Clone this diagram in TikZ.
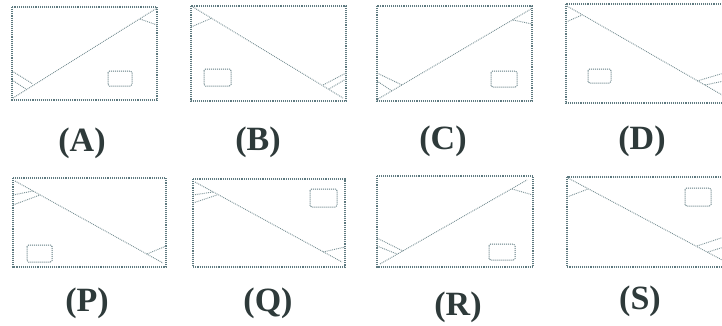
\documentclass[tikz,border=0pt]{standalone}
\usepackage{fontspec}
\setmainfont{Liberation Serif}
\usetikzlibrary{positioning}
\definecolor{Ink}{HTML}{5E7A80}
\definecolor{Label}{HTML}{2E3A3A}

\tikzset{
  frame/.style={Ink,densely dotted,line width=1.1pt},
  crease/.style={Ink!85,densely dotted,line width=0.9pt},
  chip/.style={Ink,densely dotted,line width=1pt,rounded corners=1.5pt},
  tag/.style={font=\fontsize{34}{39}\selectfont\bfseries,text=Label,inner sep=0pt}
}

\begin{document}
\begin{tikzpicture}[x=1pt,y=-1pt]
  \useasboundingbox (0,0) rectangle (722,325);
  \clip (0,0) rectangle (722,325);
  % top row
  % (A)
  \draw[frame] (12,7) rectangle (157,100);
  \draw[crease] (13,98) -- (157,8);
  \draw[crease] (12,71) -- (33,84);
  \draw[crease] (12,80) -- (26,89);
  \draw[crease] (140,19) -- (157,25);
  \draw[chip] (108,71) rectangle (132,86);
  % (B)
  \draw[frame] (191,6) rectangle (346,101);
  \draw[crease] (193,7) -- (343,98);
  \draw[crease] (191,27) -- (212,18);
  \draw[crease] (346,73) -- (323,85);
  \draw[crease] (346,79) -- (329,89);
  \draw[chip] (204,69) rectangle (231,86);
  % (C)
  \draw[frame] (377,6) rectangle (532,101);
  \draw[crease] (378,99) -- (531,9);
  \draw[crease] (377,73) -- (402,85);
  \draw[crease] (377,81) -- (392,91);
  \draw[crease] (513,20) -- (532,24);
  \draw[chip] (491,71) rectangle (517,87);
  % (D)
  \draw[frame] (566,4) rectangle (725,103);
  \draw[crease] (567,6) -- (724,96);
  \draw[crease] (566,22) -- (582,15);
  \draw[crease] (697,81) -- (724,73);
  \draw[crease] (705,85) -- (724,81);
  \draw[chip] (588,69) rectangle (611,83);
  % bottom row
  % (P)
  \draw[frame] (13,178) rectangle (166,267);
  \draw[crease] (15,181) -- (163,263);
  \draw[crease] (13,195) -- (33,191);
  \draw[crease] (13,205) -- (40,195);
  \draw[crease] (147,254) -- (166,246);
  \draw[chip] (27,245) rectangle (52,262);
  % (Q)
  \draw[frame] (193,179) rectangle (345,267);
  \draw[crease] (195,182) -- (342,262);
  \draw[crease] (193,195) -- (213,192);
  \draw[crease] (193,203) -- (217,195);
  \draw[crease] (323,252) -- (345,247);
  \draw[chip] (310,189) rectangle (337,207);
  % (R)
  \draw[frame] (377,176) rectangle (533,267);
  \draw[crease] (380,264) -- (527,180);
  \draw[crease] (377,238) -- (403,251);
  \draw[crease] (377,246) -- (397,254);
  \draw[crease] (512,189) -- (533,195);
  \draw[chip] (489,244) rectangle (515,260);
  % (S)
  \draw[frame] (567,177) rectangle (725,267);
  \draw[crease] (568,178) -- (724,261);
  \draw[crease] (567,197) -- (588,189);
  \draw[crease] (697,246) -- (724,237);
  \draw[crease] (708,252) -- (724,247);
  \draw[chip] (685,188) rectangle (711,206);
  % labels
  \node[tag] (labA) at (82,143) {(A)};
  \node[tag] (labB) at (258,142) {(B)};
  \node[tag] (labC) at (443,141) {(C)};
  \node[tag] (labD) at (642,141) {(D)};
  \node[tag] (labP) at (87,303) {(P)};
  \node[tag] (labQ) at (268,303) {(Q)};
  \node[tag] (labR) at (458,307) {(R)};
  \node[tag] (labS) at (640,301) {(S)};
\end{tikzpicture}
\end{document}
